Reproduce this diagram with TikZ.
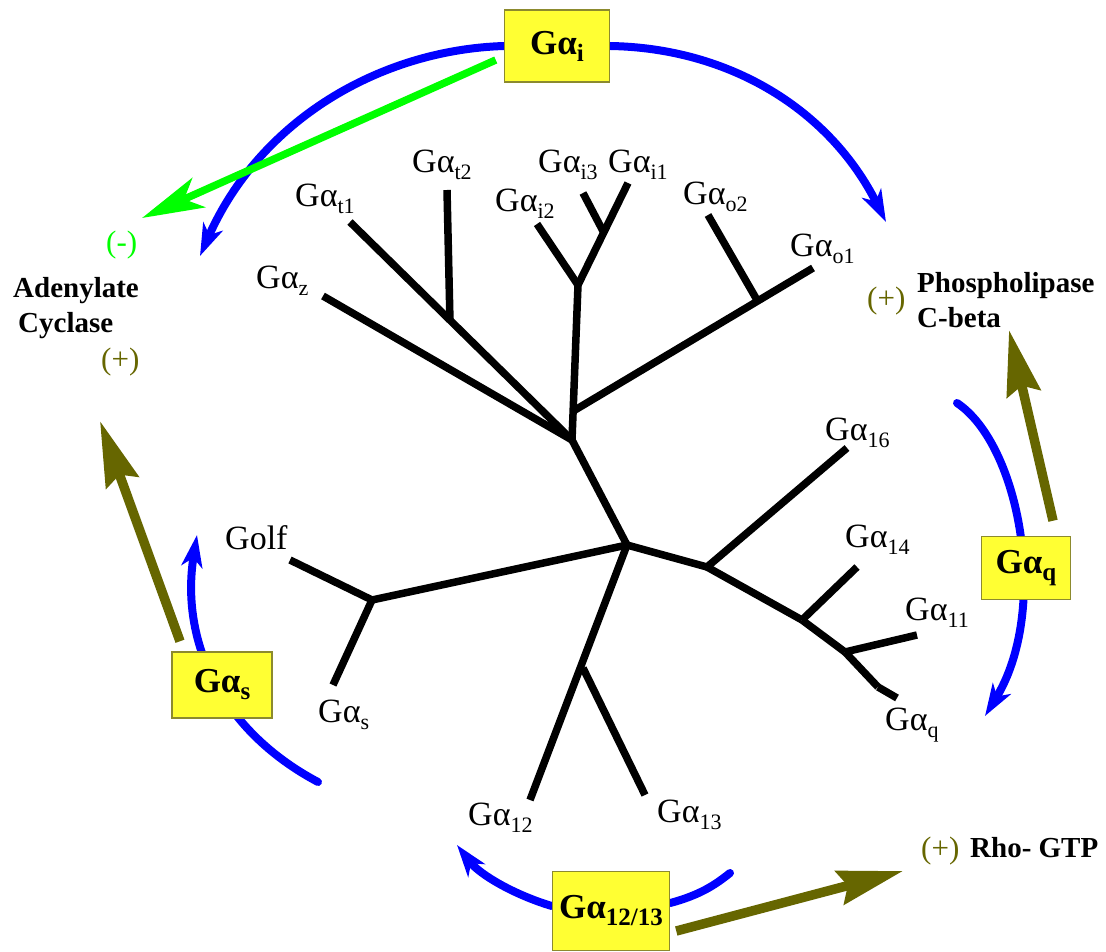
\documentclass[tikz,border=0pt]{standalone}
\usepackage{fontspec}
\setmainfont{Liberation Serif}
\usepackage{tikz}
\usetikzlibrary{arrows.meta, backgrounds}
\definecolor{PathBlue}{HTML}{0000FF}
\definecolor{InhibGreen}{HTML}{00FF00}
\definecolor{Olive}{HTML}{666600}
\definecolor{BoxYellow}{HTML}{FFFF33}
\definecolor{BoxEdge}{HTML}{8C8A2E}
\newcommand{\Galpha}[1]{Gα\raisebox{-7pt}{\fontsize{22}{22}\selectfont #1}}
\newcommand{\Gbox}[1]{Gα\raisebox{-7pt}{\fontsize{25}{25}\selectfont #1}}

\tikzset{
  branch/.style={line width=7.5pt, line cap=butt},
  leaflabel/.style={anchor=base west, inner sep=0pt, font=\fontsize{34}{36}\selectfont},
  gbox/.style={rectangle, draw=BoxEdge, line width=1.5pt, fill=BoxYellow,
               inner sep=0pt, font=\fontsize{35}{36}\selectfont\bfseries},
  bluearc/.style={PathBlue, line width=8pt, line cap=round,
                  -{Stealth[length=32pt, width=21pt, inset=9pt]}},
  bluetail/.style={PathBlue, line width=8pt, line cap=round},
  effect/.style={Olive, line width=9.5pt, -{Stealth[length=65pt, width=34pt, inset=8pt]}},
  inhibit/.style={InhibGreen, line width=7.5pt, -{Stealth[length=62pt, width=32pt, inset=16pt]}},
  target/.style={anchor=base west, inner sep=0pt, align=left,
                 font=\fontsize{29}{35}\selectfont\bfseries},
  sign/.style={anchor=base west, inner sep=0pt, font=\fontsize{31}{32}\selectfont}
}

\begin{document}
\begin{tikzpicture}[x=1pt, y=-1pt]
    \useasboundingbox (0,0) rectangle (1106,952);

    % Tree forks
    \coordinate (root) at (627,545);
    \coordinate (nI) at (572,440);
    \coordinate (nIo) at (575,410);
    \coordinate (nIi) at (578,285);
    \coordinate (nIi3) at (604,233);
    \coordinate (nO2) at (757,300);
    \coordinate (nT2) at (450,322);
    \coordinate (nS) at (372,600);
    \coordinate (nR) at (583,668);
    \coordinate (nQ) at (707,567);
    \coordinate (nQ14) at (802,620);
    \coordinate (nQ11) at (845,652);
    \coordinate (nQq) at (878,687);

    % Tree tips
    \coordinate (eT1) at (350,222);
    \coordinate (eT2) at (447,190);
    \coordinate (eZ) at (323,296);
    \coordinate (eI2) at (537,224);
    \coordinate (eI1) at (628,183);
    \coordinate (eI3) at (583,193);
    \coordinate (eO2) at (708,215);
    \coordinate (eO1) at (813,268);
    \coordinate (e16) at (847,448);
    \coordinate (e14) at (857,567);
    \coordinate (e11) at (917,635);
    \coordinate (eQ) at (897,698);
    \coordinate (eOlf) at (290,560);
    \coordinate (eS) at (333,685);
    \coordinate (e12) at (530,800);
    \coordinate (e13) at (645,795);

    \foreach \a/\b in {root/nI, nI/nIi, nIi/eI2, nIi/eI1, nIi3/eI3, nIo/eO1, nO2/eO2,
                       nI/eT1, nT2/eT2, nI/eZ, root/nS, nS/eOlf, nS/eS, root/e12, nR/e13,
                       root/nQ, nQ/e16, nQ/nQ14, nQ14/e14, nQ14/nQ11, nQ11/e11, nQ11/nQq, nQq/eQ}
        \draw[branch] (\a) -- (\b);

    % Subfamily labels
    \node[leaflabel] (lT1) at (295,207) {\Galpha{t1}};
    \node[leaflabel] (lT2) at (412,173) {\Galpha{t2}};
    \node[leaflabel] (lI3) at (538,173) {\Galpha{i3}};
    \node[leaflabel] (lI1) at (608,173) {\Galpha{i1}};
    \node[leaflabel] (lI2) at (495,212) {\Galpha{i2}};
    \node[leaflabel] (lO2) at (683,205) {\Galpha{o2}};
    \node[leaflabel] (lO1) at (790,257) {\Galpha{o1}};
    \node[leaflabel] (lZ) at (256,288) {\Galpha{z}};
    \node[leaflabel] (l16) at (825,440) {\Galpha{16}};
    \node[leaflabel] (l14) at (845,547) {\Galpha{14}};
    \node[leaflabel] (l11) at (905,620) {\Galpha{11}};
    \node[leaflabel] (lQ) at (885,730) {\Galpha{q}};
    \node[leaflabel] (lOlf) at (225,549) {Golf};
    \node[leaflabel] (lS) at (318,722) {\Galpha{s}};
    \node[leaflabel] (l12) at (468,825) {\Galpha{12}};
    \node[leaflabel] (l13) at (657,822) {\Galpha{13}};

    % Effectors
    \node[sign, text=InhibGreen] (minusAC) at (106,252) {(-)};
    \node[target] (ac) at (13,332) {Adenylate\\\hspace*{5pt}Cyclase};
    \node[sign, text=Olive] (plusAC) at (101,369) {(+)};
    \node[sign, text=Olive] (plusPL) at (867,308) {(+)};
    \node[target] (plc) at (917,327) {Phospholipase\\C-beta};
    \node[sign, text=Olive] (plusRho) at (921,858) {(+)};
    \node[target] (rho) at (970,857) {Rho- GTP};

    % G-alpha classes
    \node[gbox, minimum width=105pt, minimum height=72pt] (gi) at (557,46) {\Gbox{i}};
    \node[gbox, minimum width=89pt, minimum height=63pt] (gq) at (1026,568) {\Gbox{q}};
    \node[gbox, minimum width=100pt, minimum height=66pt] (gs) at (222,685) {\Gbox{s}};
    \node[gbox, minimum width=117pt, minimum height=79pt] (g1213) at (611,911) {\Gbox{12/13}};

    % Arrow ends
    \coordinate (acInhib) at (142,218);
    \coordinate (acStim) at (100,421);
    \coordinate (plcStim) at (1009,330);
    \coordinate (rhoStim) at (903,871);
    \coordinate (qStart) at (957,403);
    \coordinate (qEnd) at (985,716);
    \coordinate (sStart) at (318,782);
    \coordinate (sEnd) at (197,535);

    % Blue arcs
    \begin{scope}[on background layer]
        \draw[bluearc] (gi.west) .. controls (380,50) and (260,120) .. (200,256);
        \draw[bluearc] (gi.east) .. controls (730,48) and (830,110) .. (886,222);
        \draw[bluearc] (qStart) .. controls (1020,445) and (1050,610) .. (qEnd);
        \draw[bluearc] (sStart) .. controls (220,730) and (180,640) .. (sEnd);
        \draw[bluearc] ([yshift=5pt]g1213.west) .. controls (515,895) and (480,875) .. (457,845);
        \draw[bluetail] ([yshift=8pt]g1213.east) .. controls (700,895) and (715,885) .. (730,873);
    \end{scope}

    % Effects
    \draw[inhibit] ([xshift=-8pt,yshift=-14pt]gi.west) -- (acInhib);
    \draw[effect] ([xshift=-42pt,yshift=10pt]gs.north) -- (acStim);
    \draw[effect] ([xshift=27pt,yshift=15pt]gq.north) -- (plcStim);
    \draw[effect] ([xshift=6pt,yshift=-20pt]g1213.east) -- (rhoStim);
\end{tikzpicture}
\end{document}
